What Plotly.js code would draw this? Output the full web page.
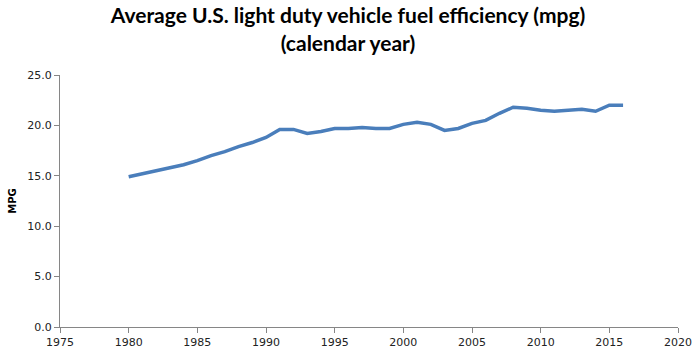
<!DOCTYPE html>
<html>
<head>
<meta charset="utf-8">
<script src="https://cdn.plot.ly/plotly-3.0.1.min.js"></script>
<style>html,body{margin:0;padding:0;background:#fff;}#chart{width:696px;height:356px;}</style>
</head>
<body>
<div id="chart"></div>
<script>
const years = [1980,1981,1982,1983,1984,1985,1986,1987,1988,1989,1990,1991,1992,1993,1994,1995,1996,1997,1998,1999,2000,2001,2002,2003,2004,2005,2006,2007,2008,2009,2010,2011,2012,2013,2014,2015,2016];
const mpg = [14.9,15.2,15.5,15.8,16.1,16.5,17.0,17.4,17.9,18.3,18.8,19.6,19.6,19.2,19.4,19.7,19.7,19.8,19.7,19.7,20.1,20.3,20.1,19.5,19.7,20.2,20.5,21.2,21.8,21.7,21.5,21.4,21.5,21.6,21.4,22.0,22.0];
const xTicks = [1975,1980,1985,1990,1995,2000,2005,2010,2015,2020];
const yTicks = [0,5,10,15,20,25];
const titleText = "Average U.S. light duty vehicle fuel efficiency (mpg)<br>(calendar year)";

Plotly.newPlot('chart', [{
  x: years, y: mpg, type: 'scatter', mode: 'lines',
  line: {color: '#4a7ebb', width: 3.5}
}], {
  width: 696, height: 356,
  margin: {l: 60, r: 18, t: 75, b: 29},
  paper_bgcolor: '#fff', plot_bgcolor: '#fff',
  showlegend: false,
  title: {text: titleText, font: {family: 'Lato, Arial', size: 21, color: '#000', weight: 'bold'}, x: 0.5, xanchor: 'center', yref: 'container', y: 0.934, yanchor: 'top'},
  xaxis: {range: [1975, 2020], tickvals: xTicks, ticktext: xTicks.map(String), showgrid: false, zeroline: false,
    showline: true, linecolor: '#868686', linewidth: 1, ticks: 'outside', ticklen: 5, tickcolor: '#868686',
    tickfont: {family: 'DejaVu Sans', size: 11, color: '#222'}},
  yaxis: {range: [0, 25], tickvals: yTicks, ticktext: yTicks.map(v => v.toFixed(1)), showgrid: false, zeroline: false,
    showline: true, linecolor: '#868686', linewidth: 1, ticks: 'outside', ticklen: 5, tickcolor: '#868686',
    tickfont: {family: 'DejaVu Sans', size: 11, color: '#222'},
    title: {text: 'MPG', font: {family: 'DejaVu Sans', size: 10, color: '#000', weight: 'bold'}, standoff: 8}}
}, {displayModeBar: false, staticPlot: true});
</script>
</body>
</html>
